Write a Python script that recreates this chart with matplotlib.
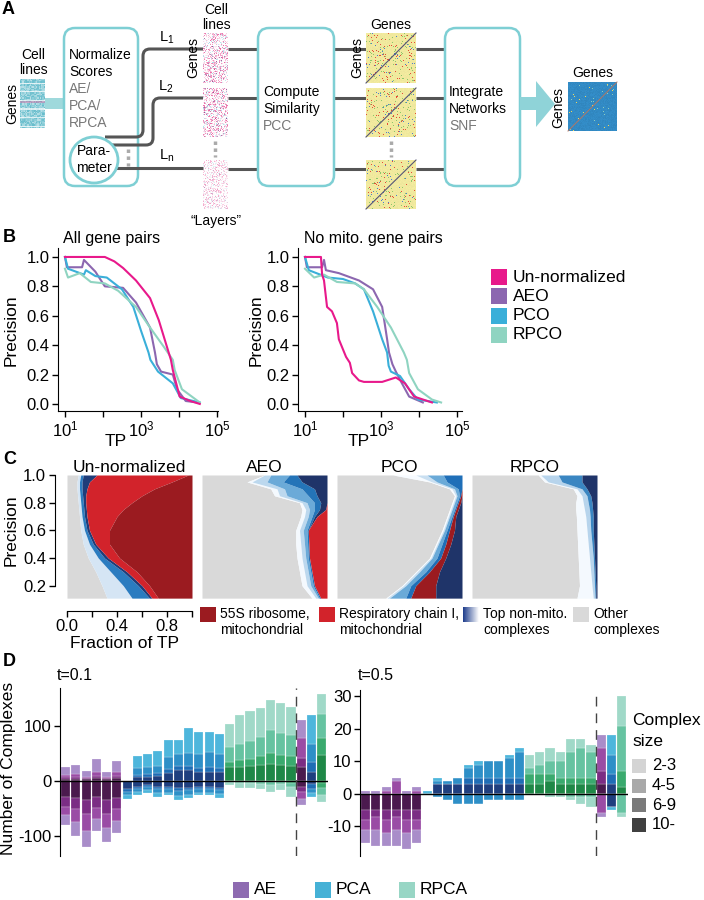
import numpy as np
import matplotlib
matplotlib.use("Agg")
import matplotlib.pyplot as plt
from matplotlib import font_manager
from matplotlib.patches import FancyBboxPatch, Ellipse, Rectangle, Polygon, PathPatch
from matplotlib.path import Path
from matplotlib.ticker import FixedLocator, NullFormatter

names = {f.name for f in font_manager.fontManager.ttflist}
FONT = "Liberation Sans Narrow" if "Liberation Sans Narrow" in names else "Liberation Sans"
plt.rcParams["font.family"] = [FONT, "DejaVu Sans"]
plt.rcParams["mathtext.fontset"] = "custom"
plt.rcParams["mathtext.rm"] = FONT
plt.rcParams["mathtext.it"] = FONT
plt.rcParams["axes.unicode_minus"] = False

# ---------------- data: panel B (log10 TP, precision) ----------------
b_methods = ["Un-normalized", "AEO", "PCO", "RPCO"]
b_colors = ["#E8198B", "#8C67B0", "#3AAFD9", "#8FD4C1"]

all_unnorm_lt = [1.0, 2.05, 2.3, 2.53, 2.87, 3.24, 3.47, 3.79, 3.84, 4.02, 4.3, 4.55]
all_unnorm_p = [1.0, 1.0, 0.97, 0.925, 0.84, 0.72, 0.57, 0.30, 0.23, 0.05, 0.02, 0.0]
all_aeo_lt = [1.0, 1.05, 1.45, 1.5, 1.8, 2.05, 2.53, 2.87, 3.24, 3.37, 3.42, 3.53, 3.84, 3.95, 4.18, 4.5]
all_aeo_p = [1.0, 0.93, 0.93, 0.98, 0.90, 0.80, 0.79, 0.69, 0.52, 0.35, 0.27, 0.22, 0.20, 0.10, 0.02, 0.01]
all_pco_lt = [1.0, 1.08, 1.5, 1.55, 1.8, 2.1, 2.5, 2.8, 3.0, 3.2, 3.25, 3.45, 3.84, 4.05, 4.55]
all_pco_p = [1.0, 0.92, 0.88, 0.91, 0.87, 0.86, 0.78, 0.66, 0.50, 0.35, 0.30, 0.22, 0.14, 0.04, 0.01]
all_rpco_lt = [1.0, 1.08, 1.39, 1.68, 2.05, 2.4, 2.87, 3.24, 3.6, 3.84, 3.89, 4.08, 4.55]
all_rpco_p = [0.92, 0.86, 0.89, 0.83, 0.82, 0.77, 0.66, 0.52, 0.39, 0.30, 0.23, 0.10, 0.01]

nomito_unnorm_lt = [1.0, 1.42, 1.45, 1.5, 1.58, 1.71, 1.84, 1.89, 2.08, 2.18, 2.24, 2.42, 2.55, 3.03, 3.39, 3.63, 3.87, 4.34]
nomito_unnorm_p = [1.0, 1.0, 0.88, 0.84, 0.66, 0.63, 0.55, 0.44, 0.32, 0.28, 0.21, 0.16, 0.15, 0.15, 0.18, 0.14, 0.05, 0.01]
nomito_aeo_lt = [1.0, 1.05, 1.45, 1.5, 1.55, 1.89, 2.42, 2.79, 3.03, 3.16, 3.21, 3.3, 3.39, 3.55, 3.74, 4.1]
nomito_aeo_p = [1.0, 0.93, 0.93, 0.98, 0.91, 0.89, 0.84, 0.78, 0.66, 0.44, 0.35, 0.27, 0.22, 0.14, 0.05, 0.01]
nomito_pco_lt = [1.0, 1.1, 1.5, 1.6, 2.0, 2.32, 2.55, 2.79, 3.03, 3.16, 3.2, 3.26, 3.5, 3.74, 3.97, 4.47]
nomito_pco_p = [1.0, 0.91, 0.87, 0.86, 0.85, 0.82, 0.78, 0.63, 0.44, 0.35, 0.26, 0.22, 0.19, 0.10, 0.03, 0.01]
nomito_rpco_lt = [1.0, 1.24, 1.5, 1.84, 2.32, 2.55, 2.9, 3.26, 3.6, 3.68, 3.74, 3.97, 4.34, 4.58]
nomito_rpco_p = [0.92, 0.86, 0.88, 0.83, 0.82, 0.78, 0.66, 0.52, 0.35, 0.30, 0.21, 0.10, 0.03, 0.01]

# ---------------- data: panel C (cumulative fraction-of-TP edges per precision) ----------------
c_prec = [1.00, 0.95, 0.90, 0.85, 0.80, 0.75, 0.70, 0.60, 0.50, 0.40, 0.30, 0.20, 0.11]
# Un-normalized: other | light blue | blue | navy | resp. chain I | (55S to 1)
unnorm_edges = [
    [0.09, 0.11, 0.13, 0.24, 0.97],
    [0.08, 0.10, 0.12, 0.18, 0.84],
    [0.08, 0.10, 0.12, 0.16, 0.70],
    [0.085, 0.105, 0.125, 0.15, 0.60],
    [0.09, 0.11, 0.13, 0.15, 0.52],
    [0.095, 0.115, 0.135, 0.155, 0.45],
    [0.10, 0.12, 0.14, 0.16, 0.40],
    [0.11, 0.14, 0.16, 0.18, 0.34],
    [0.13, 0.18, 0.21, 0.23, 0.34],
    [0.17, 0.25, 0.30, 0.33, 0.42],
    [0.23, 0.35, 0.45, 0.48, 0.56],
    [0.28, 0.45, 0.57, 0.60, 0.66],
    [0.32, 0.52, 0.66, 0.68, 0.73],
]
# AEO: other | white | light | blue | dark blue | navy | (resp. chain I to 1)
aeo_edges = [
    [0.50, 0.50, 0.55, 0.70, 0.76, 1.00],
    [0.36, 0.40, 0.52, 0.65, 0.80, 1.00],
    [0.55, 0.60, 0.66, 0.80, 0.90, 1.00],
    [0.58, 0.62, 0.68, 0.85, 0.92, 1.00],
    [0.78, 0.80, 0.84, 0.90, 0.95, 1.00],
    [0.80, 0.83, 0.86, 0.90, 0.94, 0.99],
    [0.79, 0.82, 0.85, 0.88, 0.90, 0.92],
    [0.75, 0.78, 0.81, 0.84, 0.85, 0.85],
    [0.75, 0.79, 0.82, 0.845, 0.855, 0.855],
    [0.76, 0.80, 0.83, 0.85, 0.86, 0.86],
    [0.78, 0.82, 0.85, 0.87, 0.88, 0.88],
    [0.80, 0.84, 0.87, 0.89, 0.90, 0.90],
    [0.88, 0.91, 0.93, 0.94, 0.95, 0.95],
]
# PCO: other | white | light | blue | dark blue | 55S | (navy to 1)
pco_edges = [
    [0.45, 0.63, 0.72, 0.85, 1.00, 1.00],
    [0.74, 0.76, 0.80, 0.88, 1.00, 1.00],
    [0.90, 0.92, 0.94, 0.97, 1.00, 1.00],
    [0.94, 0.95, 0.96, 0.98, 0.99, 1.00],
    [0.92, 0.93, 0.94, 0.96, 0.97, 0.99],
    [0.90, 0.91, 0.92, 0.94, 0.95, 0.97],
    [0.88, 0.89, 0.90, 0.92, 0.93, 0.95],
    [0.84, 0.85, 0.86, 0.88, 0.90, 0.94],
    [0.79, 0.80, 0.81, 0.84, 0.87, 0.91],
    [0.74, 0.75, 0.76, 0.80, 0.83, 0.87],
    [0.63, 0.64, 0.66, 0.71, 0.74, 0.82],
    [0.52, 0.53, 0.55, 0.59, 0.63, 0.79],
    [0.39, 0.40, 0.42, 0.55, 0.59, 0.79],
]
# RPCO: other | white | light | blue | (navy to 1)
rpco_edges = [
    [0.53, 0.55, 0.69, 0.88],
    [0.58, 0.61, 0.72, 0.88],
    [0.81, 0.84, 0.88, 0.92],
    [0.84, 0.88, 0.92, 0.95],
    [0.83, 0.89, 0.93, 0.96],
    [0.83, 0.90, 0.94, 0.965],
    [0.835, 0.91, 0.945, 0.97],
    [0.84, 0.92, 0.95, 0.97],
    [0.845, 0.93, 0.96, 0.975],
    [0.85, 0.94, 0.97, 0.98],
    [0.855, 0.95, 0.975, 0.985],
    [0.86, 0.96, 0.98, 0.99],
    [0.84, 0.97, 0.985, 0.99],
]
c_titles = ["Un-normalized", "AEO", "PCO", "RPCO"]

# ---------------- data: panel D (complexes per size class; 26 bars) ----------------
d_groups = ["AE"] * 6 + ["PCA"] * 10 + ["RPCA"] * 7 + ["AE", "PCA", "RPCA"]
size_labels = ["2-3", "4-5", "6-9", "10-"]

t01_pos10 = [4, 4, 3, 5, 3, 5, 0, 7, 8, 9, 14, 20, 20, 16, 17, 16, 25, 26, 28, 30, 31, 30, 28, 25, 17, 48]
t01_pos69 = [3, 3, 2, 4, 2, 4, 0, 4, 5, 5, 8, 7, 7, 8, 8, 8, 10, 12, 13, 15, 20, 18, 17, 17, 18, 31]
t01_pos45 = [4, 5, 3, 8, 3, 7, 0, 12, 13, 14, 22, 23, 24, 26, 27, 25, 26, 30, 32, 35, 42, 40, 38, 37, 33, 43]
t01_pos23 = [14, 18, 10, 23, 9, 20, 0, 23, 24, 27, 30, 24, 45, 39, 38, 37, 42, 52, 54, 52, 54, 54, 52, 31, 52, 37]
t01_neg10 = [29, 30, 35, 28, 35, 30, 15, 10, 8, 11, 10, 13, 12, 10, 10, 12, 0, 0, 0, 0, 0, 0, 0, 10, 6, 4]
t01_neg69 = [18, 20, 25, 20, 25, 20, 4, 4, 3, 4, 4, 5, 5, 4, 4, 4, 0, 1, 1, 1, 2, 2, 3, 10, 8, 8]
t01_neg45 = [15, 25, 30, 20, 25, 22, 7, 6, 5, 7, 7, 9, 8, 7, 7, 8, 2, 3, 3, 4, 5, 4, 8, 12, 8, 14]
t01_neg23 = [18, 25, 30, 22, 25, 23, 6, 5, 5, 6, 5, 7, 6, 5, 5, 6, 5, 8, 8, 10, 13, 11, 18, 11, 6, 12]

t05_pos10 = [0, 0, 0, 0, 0, 0, 0, 3, 3, 3, 3, 3, 3, 3, 3, 3, 3, 3, 4, 3, 3, 3, 3, 3, 3, 2]
t05_pos69 = [0, 0, 0, 0, 0, 0, 0, 0, 0, 0, 2, 2, 2, 2, 2, 2, 3, 3, 2, 2, 2, 2, 2, 4, 3, 5]
t05_pos45 = [0, 0, 1, 4, 0, 1, 0, 1, 1, 2, 3, 4, 5, 5, 6, 8, 2, 3, 4, 5, 8, 9, 8, 7, 6, 14]
t05_pos23 = [1, 1, 1, 1, 1, 1, 1, 1, 0, 0, 1, 1, 0, 0, 1, 1, 4, 4, 4, 3, 4, 3, 2, 4, 6, 9]
t05_neg10 = [5, 5, 5, 5, 5, 5, 0, 0, 0, 0, 0, 0, 0, 0, 0, 0, 0, 0, 0, 0, 0, 0, 0, 0, 4, 0]
t05_neg69 = [3, 2, 3, 2, 3, 3, 0, 0, 0, 0, 0, 0, 0, 0, 0, 0, 0, 0, 0, 0, 0, 0, 0, 0, 0, 0]
t05_neg45 = [3, 4, 4, 4, 4, 3, 0, 1, 2, 3, 3, 3, 2, 2, 2, 2, 0, 0, 0, 0, 1, 1, 1, 6, 0, 6]
t05_neg23 = [4, 5, 4, 5, 5, 4, 0, 0, 0, 0, 0, 0, 0, 0, 0, 0, 0, 0, 1, 1, 1, 2, 3, 1, 1, 1]

# shades ordered 10-, 6-9, 4-5, 2-3 (dark -> light)
shades = {
    "AE": ["#4B1A4E", "#7B2D84", "#9A4CA5", "#A98DC9"],
    "PCA": ["#1F3F7F", "#1F6DB5", "#2E8FC7", "#4EB6DC"],
    "RPCA": ["#1F8847", "#3AAA6E", "#66C3A1", "#A0D9C8"],
}
legend_colors = {"AE": "#8E6BB1", "PCA": "#45B1D6", "RPCA": "#98D6C5"}
size_grays = ["#D4D4D4", "#A9A9A9", "#7A7A7A", "#404040"]

# ---------------- figure ----------------
W, H = 704, 900
fig = plt.figure(figsize=(W / 100, H / 100), dpi=100)


def px_axes(x0, y0, x1, y1, **kw):
    return fig.add_axes([x0 / W, 1 - y1 / H, (x1 - x0) / W, (y1 - y0) / H], **kw)


ov = fig.add_axes([0, 0, 1, 1], zorder=10)
ov.set_autoscale_on(False)
ov.set_xlim(0, W)
ov.set_ylim(H, 0)
ov.axis("off")
ov.patch.set_alpha(0)


def txt(x, y, s, size=10, **kw):
    kw.setdefault("va", "center")
    ov.text(x, y, s, fontsize=size, **kw)


def hashnoise(h, w, seed):
    i, j = np.mgrid[0:h, 0:w]
    v = np.sin(i * 12.9898 + j * 78.233 + seed * 37.719) * 43758.5453
    return v - np.floor(v)


# ---------------- panel A ----------------
TEAL = "#7ECFD4"
GRAYL = "#555555"
txt(2, 10, "A", 13, fontweight="bold")

# input matrix
n = hashnoise(40, 20, 1)
teal = np.array([0.40, 0.74, 0.80])
img = 1 - (1 - teal) * (0.45 + 0.55 * n)[..., None]
rows = np.arange(40)
img[rows % 7 == 3] = 1 - (1 - img[rows % 7 == 3]) * 0.3
img[18:20] = img[18:20] * 0.6 + np.array([0.9, 0.35, 0.6]) * 0.4
ov.imshow(img, extent=(20, 45, 128, 79), aspect="auto", interpolation="nearest", zorder=2)
txt(33, 55, "Cell", 10, ha="center")
txt(33, 70, "lines", 10, ha="center")
txt(12, 103, "Genes", 10, ha="center", rotation=90)
ov.add_patch(Rectangle((45, 98), 20, 11, fc="#9FD9DC", ec="none", zorder=1))

# boxes
for bx in [(64, 138), (258, 334), (445, 520)]:
    ov.add_patch(FancyBboxPatch((bx[0], 28), bx[1] - bx[0], 158,
                                boxstyle="round,pad=0,rounding_size=11",
                                fc="white", ec=TEAL, lw=1.8, zorder=2))
for k, (s, c) in enumerate([("Normalize", "k"), ("Scores", "k"), ("AE/", "#777777"),
                            ("PCA/", "#777777"), ("RPCA", "#777777")]):
    txt(69, 55 + 17 * k, s, 10, color=c, zorder=3)
for k, (s, c) in enumerate([("Compute", "k"), ("Similarity", "k"), ("PCC", "#777777")]):
    txt(263, 92 + 17 * k, s, 10, color=c, zorder=3)
for k, (s, c) in enumerate([("Integrate", "k"), ("Networks", "k"), ("SNF", "#777777")]):
    txt(449, 92 + 17 * k, s, 10, color=c, zorder=3)


def elbow(x0, y0, xv, y1, x1, r=7):
    s = np.sign(y1 - y0)
    verts = [(x0, y0), (xv - r, y0), (xv, y0), (xv, y0 + s * r), (xv, y1 - s * r),
             (xv, y1), (xv + r, y1), (x1, y1)]
    codes = [Path.MOVETO, Path.LINETO, Path.CURVE3, Path.CURVE3, Path.LINETO,
             Path.CURVE3, Path.CURVE3, Path.LINETO]
    ov.add_patch(PathPatch(Path(verts, codes), fc="none", ec=GRAYL, lw=2.2, zorder=3))


elbow(105, 137, 143, 49, 203)
elbow(110, 145, 153, 98, 203)
ov.plot([112, 203], [168, 168], color=GRAYL, lw=2.2, zorder=3, solid_capstyle="butt")
ov.add_patch(Ellipse((94, 160), 48, 46, fc="white", ec=TEAL, lw=2, zorder=4))
txt(94, 151, "Para-", 10, ha="center", zorder=5)
txt(94, 168, "meter", 10, ha="center", zorder=5)
ov.plot([128, 128], [149, 166], color="#AAAAAA", lw=2.5, ls=(0, (1, 1)), zorder=3)
txt(167, 38, "L$_1$", 10.5, ha="center")
txt(166, 87, "L$_2$", 10.5, ha="center")
txt(167, 156, "L$_\\mathregular{n}$", 10.5, ha="center")

# layers and similarity matrices
layer_y = [(33, 83), (88, 137), (160, 209)]
pink = np.array([0.91, 0.33, 0.60])
cyan = np.array([0.45, 0.80, 0.87])
for k, (y0, y1) in enumerate(layer_y):
    n1 = hashnoise(50, 25, 10 + k)
    n2 = hashnoise(50, 25, 20 + k)
    ap = np.clip((n1 - 0.40) / 0.60, 0, 1) ** 2 * (0.55 if k == 2 else 0.9)
    ac = np.clip((n2 - 0.82) / 0.18, 0, 1) * (0.3 if k == 2 else 0.6)
    img = np.ones((50, 25, 3)) * (1 - ap - ac)[..., None] + pink * ap[..., None] + cyan * ac[..., None]
    ov.imshow(np.clip(img, 0, 1), extent=(203, 228, y1, y0), aspect="auto",
              interpolation="nearest", zorder=2)
    ym = [49, 98, 169][k]
    for xa, xb in [(228, 258), (334, 366), (416, 445)]:
        ov.plot([xa, xb], [ym, ym], color=GRAYL, lw=2.2, zorder=1, solid_capstyle="butt")
    n3 = hashnoise(50, 50, 30 + k)
    n4 = hashnoise(50, 50, 40 + k)
    base = np.array([0.96, 0.93, 0.63])
    img = np.ones((50, 50, 3)) * base * (0.97 + 0.03 * n4)[..., None]
    img[n3 > 0.975] = [0.90, 0.30, 0.22]
    img[(n3 > 0.94) & (n3 <= 0.975)] = [0.55, 0.78, 0.42]
    img[n4 > 0.985] = [0.30, 0.50, 0.80]
    ov.imshow(img, extent=(366, 416, y1, y0), aspect="auto", interpolation="nearest", zorder=2)
    ov.plot([366, 416], [y1, y0], color="#555577", lw=0.8, zorder=3)
for xd in [215, 391]:
    ov.plot([xd, xd], [141, 157], color="#AAAAAA", lw=2.5, ls=(0, (1, 1)), zorder=3)
txt(216, 10, "Cell", 10, ha="center")
txt(216, 25, "lines", 10, ha="center")
txt(193, 58, "Genes", 10, ha="center", rotation=90)
txt(216, 221, "\u201cLayers\u201d", 10, ha="center")
txt(391, 25, "Genes", 10, ha="center")
txt(357, 58, "Genes", 10, ha="center", rotation=90)

# arrow and integrated network
ov.add_patch(Polygon([(520, 97), (536, 97), (536, 81), (555, 104), (536, 127), (536, 110), (520, 110)],
                     closed=True, fc="#8FD3D8", ec="none", zorder=2))
n5 = hashnoise(50, 50, 50)
img = np.ones((50, 50, 3)) * np.array([0.20, 0.55, 0.78]) * (0.95 + 0.07 * n5)[..., None]
img[n5 > 0.992] = [0.95, 0.85, 0.35]
img[(n5 > 0.985) & (n5 <= 0.992)] = [0.55, 0.80, 0.75]
ov.imshow(np.clip(img, 0, 1), extent=(568, 617, 131, 82), aspect="auto", interpolation="nearest", zorder=2)
ov.plot([568, 617], [131, 82], color="#B07866", lw=0.7, zorder=3)
txt(593, 73, "Genes", 10, ha="center")
txt(558, 107, "Genes", 10, ha="center", rotation=90)

# ---------------- panel B ----------------
txt(3, 238, "B", 13, fontweight="bold")
txt(63, 239, "All gene pairs", 11.5)
txt(304, 239, "No mito. gene pairs", 11.5)

b_series = [
    [(all_unnorm_lt, all_unnorm_p), (all_aeo_lt, all_aeo_p), (all_pco_lt, all_pco_p), (all_rpco_lt, all_rpco_p)],
    [(nomito_unnorm_lt, nomito_unnorm_p), (nomito_aeo_lt, nomito_aeo_p),
     (nomito_pco_lt, nomito_pco_p), (nomito_rpco_lt, nomito_rpco_p)],
]
for k, (x0, x1, lo, hi, xtp, xyl) in enumerate([(58, 218, 0.816, 5.03, 116, 11),
                                                (298, 462, 0.816, 5.13, 359, 256)]):
    ax = px_axes(x0, 248, x1, 411)
    order = [1, 2, 3, 0]
    for m in order:
        lt, p = b_series[k][m]
        ax.plot(10 ** np.array(lt), p, color=b_colors[m], lw=1.5)
    ax.set_xscale("log")
    ax.set_xlim(10 ** lo, 10 ** hi)
    ax.set_ylim(-0.048, 1.061)
    for s in ["top", "right"]:
        ax.spines[s].set_visible(False)
    ax.xaxis.set_major_locator(FixedLocator([1e1, 1e3, 1e5]))
    ax.set_xticklabels(["$10^1$", "$10^3$", "$10^5$"])
    ax.xaxis.set_minor_locator(FixedLocator([1e2, 1e4]))
    ax.xaxis.set_minor_formatter(NullFormatter())
    ax.set_yticks([0, 0.2, 0.4, 0.6, 0.8, 1.0])
    ax.set_yticklabels(["0.0", "0.2", "0.4", "0.6", "0.8", "1.0"])
    ax.tick_params(which="both", length=4, width=1, labelsize=12, pad=2)
    ax.patch.set_alpha(0)
    txt(xtp, 441, "TP", 12.5, ha="center")
    txt(xyl, 330, "Precision", 12.5, ha="center", rotation=90)

for m, name in enumerate(b_methods):
    yc = 277 + 19.3 * m
    ov.add_patch(Rectangle((491, yc - 8), 16, 16, fc=b_colors[m], ec="none"))
    txt(513, yc, name, 12.5)

# ---------------- panel C ----------------
txt(3, 460, "C", 13, fontweight="bold")
C_GRAY = "#D9D9D9"
RED = "#D2232B"
DRED = "#9B1B20"
NAVY = "#1F3469"
c_layers = [
    (unnorm_edges, [C_GRAY, "#D5E5F4", "#2B7CC0", "#1E3D7A", RED, DRED]),
    (aeo_edges, [C_GRAY, "#F4F9FE", "#BCD8EE", "#6BAAD8", "#2474B8", NAVY, RED]),
    (pco_edges, [C_GRAY, "#F7FBFF", "#C9DFF1", "#6AAAD8", "#1F6FB8", DRED, NAVY]),
    (rpco_edges, [C_GRAY, "#F4F9FE", "#B7D4EC", "#3A86C2", NAVY]),
]
prec = np.array(c_prec)
for k, x0 in enumerate([67, 202, 337, 472]):
    ax = px_axes(x0, 475, x0 + 125, 598)
    edges, cols = c_layers[k]
    e = np.array(edges)
    bounds = [np.zeros(len(prec))] + [e[:, j] for j in range(e.shape[1])] + [np.ones(len(prec))]
    for j, col in enumerate(cols):
        ax.fill_betweenx(prec, bounds[j], bounds[j + 1], color=col, lw=0)
    ax.set_xlim(0, 1)
    ax.set_ylim(0.111, 1.0)
    ax.set_title(c_titles[k], fontsize=12.5, pad=2)
    if k == 0:
        for s in ["top", "right"]:
            ax.spines[s].set_visible(False)
        ax.spines["left"].set_position(("outward", 9))
        ax.spines["left"].set_bounds(0.2, 1.0)
        ax.spines["bottom"].set_position(("outward", 9))
        ax.spines["bottom"].set_bounds(0, 1)
        ax.set_yticks([0.2, 0.4, 0.6, 0.8, 1.0])
        ax.set_yticklabels(["0.2", "0.4", "0.6", "0.8", "1.0"])
        ax.set_xticks([0, 0.2, 0.4, 0.6, 0.8, 1.0])
        ax.set_xticklabels(["0.0", "", "0.4", "", "0.8", ""])
        ax.tick_params(length=4, width=1, labelsize=12, pad=2)
    else:
        ax.axis("off")
txt(11, 530, "Precision", 12.5, ha="center", rotation=90)
txt(125, 643, "Fraction of TP", 12.5, ha="center")

for (x, col, l1, l2) in [(200, DRED, "55S ribosome,", "mitochondrial"),
                         (319, RED, "Respiratory chain I,", "mitochondrial"),
                         (None, None, "Top non-mito.", "complexes"),
                         (573, C_GRAY, "Other", "complexes")]:
    if x is None:
        grad = np.linspace(0, 1, 40)
        navy = np.array([0.12, 0.24, 0.55])
        gimg = (navy * (1 - grad[:, None]) + np.array([1, 1, 1]) * grad[:, None])[None, :, :]
        ov.imshow(gimg, extent=(463, 479, 622, 607), aspect="auto", zorder=2)
        tx = 483
    else:
        ov.add_patch(Rectangle((x, 607), 16, 15, fc=col, ec="none"))
        tx = x + 20
    txt(tx, 614, l1, 10)
    txt(tx, 630, l2, 10)

# ---------------- panel D ----------------
txt(3, 661, "D", 13, fontweight="bold")
idx = np.arange(len(d_groups))
d_sets = [
    ((60, 688, 328, 856), (-136, 169), [-100, 0, 100], "t=0.1", 57,
     [t01_pos10, t01_pos69, t01_pos45, t01_pos23], [t01_neg10, t01_neg69, t01_neg45, t01_neg23]),
    ((360, 690, 628, 856), (-19.1, 32), [-10, 0, 10, 20, 30], "t=0.5", 358,
     [t05_pos10, t05_pos69, t05_pos45, t05_pos23], [t05_neg10, t05_neg69, t05_neg45, t05_neg23]),
]
for rect, ylim, yt, ttl, tx, pos, neg in d_sets:
    ax = px_axes(*rect)
    bar_cols = [[shades[g][s] for g in d_groups] for s in range(4)]
    bot = np.zeros(len(idx))
    for s in range(4):
        v = np.array(pos[s], float)
        ax.bar(idx, v, bottom=bot, width=0.88, color=bar_cols[s], edgecolor=(1, 1, 1, 0.55), linewidth=0.3)
        bot += v
    bot = np.zeros(len(idx))
    for s in range(4):
        v = -np.array(neg[s], float)
        ax.bar(idx, v, bottom=bot, width=0.88, color=bar_cols[s], edgecolor=(1, 1, 1, 0.55), linewidth=0.3)
        bot += v
    ax.axhline(0, color="black", lw=1)
    ax.axvline(22.5, color="#444444", lw=1, dashes=(7, 5))
    ax.set_xlim(-0.54, 25.61)
    ax.set_ylim(*ylim)
    for s in ["top", "right", "bottom"]:
        ax.spines[s].set_visible(False)
    ax.set_xticks([])
    ax.set_yticks(yt)
    ax.tick_params(length=4, width=1, labelsize=12, pad=2)
    ax.patch.set_alpha(0)
    txt(tx, 676, ttl, 11.5)
txt(9, 768, "Number of Complexes", 12.5, ha="center", rotation=90)

txt(632, 720, "Complex", 12.5)
txt(632, 742, "size", 12.5)
for s in range(4):
    y0 = 759 + 19.5 * s
    ov.add_patch(Rectangle((632, y0), 14, 14, fc=size_grays[s], ec="none"))
    txt(652, y0 + 7, size_labels[s], 12)

for (x, g) in [(233, "AE"), (315, "PCA"), (399, "RPCA")]:
    ov.add_patch(Rectangle((x, 882), 16, 16, fc=legend_colors[g], ec="none"))
    txt(x + 21, 890, g, 12.5)

fig.savefig("out.png", dpi=100)
